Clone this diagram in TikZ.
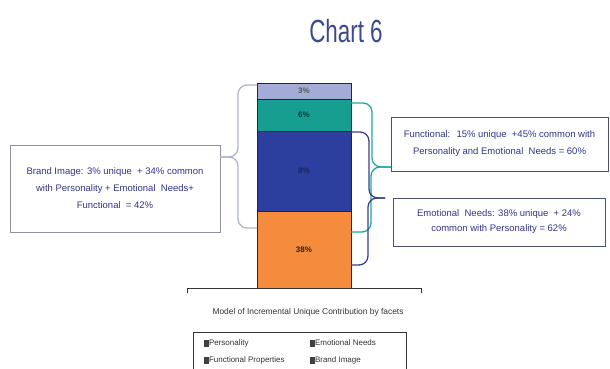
\documentclass[tikz,border=0pt]{standalone}
\usepackage{fontspec}
\setmainfont{Liberation Sans}
\newfontfamily\charttitlefont[FakeStretch=0.7]{Liberation Sans}

\definecolor{titleblue}{HTML}{3B4A8C}
\definecolor{boxtext}{HTML}{2F3585}
\definecolor{barline}{HTML}{1C2450}
\definecolor{brandfill}{HTML}{A4ABD6}
\definecolor{funcfill}{HTML}{169F90}
\definecolor{emofill}{HTML}{2C3F9E}
\definecolor{persfill}{HTML}{F58B3C}
\definecolor{bracegrey}{HTML}{B0B5C9}
\definecolor{braceteal}{HTML}{22A89A}
\definecolor{braceblue}{HTML}{3A3F8F}

\tikzset{
  seg/.style={draw=barline, line width=0.8pt, minimum width=94pt, font=\fontsize{8}{9}\selectfont\bfseries},
  infobox/.style={draw=#1, line width=0.9pt, align=center, text=boxtext, font=\fontsize{9.5}{17}\selectfont},
  bracepath/.style={draw=#1, line width=1.3pt, rounded corners=9pt},
  legmark/.style={fill=black!75, minimum width=5pt, minimum height=7pt},
  legtext/.style={anchor=west, font=\fontsize{8}{9}\selectfont, text=black!80}
}

\begin{document}
\begin{tikzpicture}[x=1pt, y=1pt, yscale=-1, inner sep=0pt, outer sep=0pt]

  \useasboundingbox[fill=white] (0,0) rectangle (610,369);

  % title
  \node[anchor=base, text=titleblue, font=\charttitlefont\fontsize{32}{36}\selectfont] (charttitle) at (346,43) {Chart 6};

  % stacked bar
  \node[seg, fill=brandfill, minimum height=16pt, text=black!65] (brandseg) at (304,91) {3\%};
  \node[seg, fill=funcfill, minimum height=32pt, text=funcfill!40!black] (funcseg) at (304,115) {6\%};
  \node[seg, fill=emofill, minimum height=80pt, text=barline] (emoseg) at (304,171) {8\%};
  \node[seg, fill=persfill, minimum height=77pt, text=black!85] (persseg) at (304,249.5) {38\%};

  % axis
  \path[draw=black!80,line width=0.8pt] (187,293) -- (187,288) -- (421,288) -- (421,293);

  % text boxes
  \node[infobox=bracegrey!80!black, minimum width=210pt, minimum height=87pt] (brandbox) at (115,188.5)
    {Brand Image: 3\% unique \ + 34\% common\\with Personality + Emotional \ Needs+\\Functional \ = 42\%};
  \node[infobox=barline!80, minimum width=217pt, minimum height=54pt] (funcbox) at (499.5,144)
    {Functional: \ 15\% unique \ +45\% common with\\Personality and Emotional \ Needs = 60\%};
  \node[infobox=barline!80, minimum width=212pt, minimum height=48pt, font=\fontsize{9.5}{15}\selectfont] (emobox) at (499,222)
    {Emotional \ Needs: 38\% unique \ + 24\%\\common with Personality = 62\%};

  % brace ends
  \coordinate (brandtop) at (257,85);
  \coordinate (brandbot) at (257,228);
  \coordinate (brandtip) at (brandbox.east |- 0,157);
  \coordinate (functop) at (351,103);
  \coordinate (funcbot) at (351,232);
  \coordinate (functip) at (funcbox.west |- 0,167);
  \coordinate (emotop) at (351,132);
  \coordinate (emobot) at (351,265);
  \coordinate (emotip) at (385,198);

  % braces
  \path[bracepath=bracegrey] (brandtop) -| (238,157) -- (brandtip);
  \path[bracepath=bracegrey] (brandbot) -| (238,157) -- (brandtip);
  \path[bracepath=braceteal] (functop) -| (372,167) -- (functip);
  \path[bracepath=braceteal] (funcbot) -| (371,167) -- (functip);
  \path[bracepath=braceblue] (emotop) -| (369,198) -- (emotip);
  \path[bracepath=braceblue] (emobot) -| (368,198) -- (emotip);

  % caption and legend
  \node[font=\fontsize{8.4}{9}\selectfont, text=black!80] (caption) at (308,312) {Model of Incremental Unique Contribution by facets};
  \path[draw=black!80,line width=0.8pt] (193,375) |- (406,332) -- (406,375);

  \node[legmark] (persmark) at (206,343) {};
  \node[legtext] (perstext) at (209,343) {Personality};
  \node[legmark] (emomark) at (312,343) {};
  \node[legtext] (emotext) at (315,343) {Emotional Needs};
  \node[legmark] (funcmark) at (206,360) {};
  \node[legtext] (functext) at (209,360) {Functional Properties};
  \node[legmark] (brandmark) at (312,360) {};
  \node[legtext] (brandtext) at (315,360) {Brand Image};

\end{tikzpicture}
\end{document}
